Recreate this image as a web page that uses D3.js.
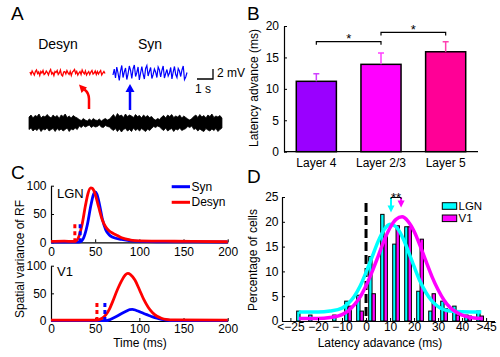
<!DOCTYPE html>
<html><head><meta charset="utf-8">
<script src="https://cdn.jsdelivr.net/npm/d3@7"></script>
<style>
body{margin:0;background:#fff}
text{font-family:"Liberation Sans",Arial,sans-serif;fill:#000}
</style>
</head><body>
<svg id="c" width="500" height="357"></svg>
<script>
// ================= DATA =================
// Panel A: membrane potential traces (mV, relative)
const desynTrace = [0.2,-0.3,0.4,0.0,-0.4,0.3,0.6,-0.1,0.2,-0.5,
  0.3,0.0,0.5,-0.3,-0.1,0.4,0.1,-0.4,0.3,0.7,
  -0.2,0.1,-0.5,0.3,0.1,0.5,-0.3,0.0,0.6,-0.4,
  -0.6,0.2,0.3,-0.2,0.5,0.0,-0.3,0.3,-0.5,0.2,
  0.4,0.7,-0.1,0.3,-0.4,0.0,0.3,-0.3,0.6,0.1,
  -0.2,0.4,-0.4,0.0,0.3,-0.3,0.2,0.5,-0.2,0.0,
  0.4,-0.3,0.3,-0.2,0.2,0.5,-0.4,0.0,0.3,-0.1];
const synTrace = [0.0,1.2,-0.6,1.6,0.4,-1.1,0.8,1.9,-0.5,0.6,
  1.4,-0.9,0.2,1.8,0.9,-0.7,1.2,2.0,-0.3,0.5,
  1.6,-1.0,0.4,1.7,0.2,-0.8,1.3,1.9,-0.2,0.7,
  1.5,-0.7,0.1,1.2,0.6,-0.5,1.6,1.0,-0.4,0.9,
  1.8,-0.6,0.3,1.1,-0.2,0.4,1.5,-0.8,0.6,1.7,
  0.1,-0.5,1.3,0.8,-0.3,1.0,1.8,-0.9,-0.4,0.5];
// field-potential envelope (upper / lower edge, mV)
const lfpTop = [1.2,1.6,1.0,1.5,1.3,1.8,1.0,1.4,1.2,1.7,1.3,1.0,1.6,1.2,1.5,0.9,1.6,1.3,1.8,1.1,1.4,1.0,1.5,1.2,1.0,
  0.7,0.5,0.9,0.6,0.4,0.8,0.5,0.9,0.6,0.5,0.8,0.4,0.7,0.9,0.6,0.8,
  1.2,1.7,1.1,1.9,1.4,1.6,1.1,1.8,1.3,1.6,1.4,1.1,1.7,1.3,1.5,1.0,1.6,1.2,1.5,1.1,1.3,
  0.8,0.6,0.9,0.7,
  1.2,1.5,1.0,1.6,1.3,1.7,1.1,1.4,1.2,1.6,1.0,1.4,1.1,
  0.8,0.6,0.9,
  1.3,1.6,1.1,1.7,1.2,1.5,1.0,1.6,1.3,1.8,1.1,1.4,1.2,1.5,1.0];
const lfpBottom = [-1.3,-1.0,-1.6,-1.2,-1.5,-1.0,-1.7,-1.2,-1.4,-1.0,-1.6,-1.3,-1.1,-1.7,-1.1,-1.5,-1.2,-1.6,-1.3,-1.0,-1.7,-1.2,-1.4,-1.0,-1.3,
  -0.6,-0.9,-0.5,-0.8,-0.6,-0.4,-0.9,-0.6,-0.8,-0.7,-0.4,-0.8,-0.9,-0.5,-0.7,-0.8,
  -1.2,-1.5,-1.1,-1.7,-1.2,-1.8,-1.3,-1.1,-1.6,-1.3,-1.7,-1.0,-1.5,-1.2,-1.6,-1.1,-1.4,-1.7,-1.2,-1.5,-1.1,
  -0.7,-0.9,-0.6,-0.8,
  -1.2,-1.5,-1.0,-1.6,-1.3,-1.1,-1.7,-1.2,-1.4,-1.0,-1.5,-1.3,-1.1,
  -0.7,-0.9,-0.6,
  -1.3,-1.1,-1.6,-1.2,-1.5,-1.7,-1.1,-1.4,-1.6,-1.2,-1.5,-1.1,-1.7,-1.3,-1.0];
// trace time windows (s)
const desynWindow = [0.06, 4.75];
const synWindow = [5.25, 9.875];
const lfpWindow = [0, 12.06];

// Panel B
const layers = ["Layer 4","Layer 2/3","Layer 5"];
const latencyMean = [11.2, 13.9, 15.9];
const latencyErr = [1.2, 1.8, 1.6];
const layerColors = ["#9a00ff","#ff00ff","#ff0096"];
const errColors = ["#d040ff","#ff40ff","#ff40b0"];
const bTicks = [0,5,10,15,20];
const sigPairs = [["Layer 4","Layer 2/3",17.5,"*"],["Layer 2/3","Layer 5",19.0,"*"]];

// Panel C (time in ms, spatial variance)
const cTicksX = [0,50,100,150,200];
const cTicksY = [0,50,100];
const lgnSyn = [[0,0.5],[30,0.5],[33,0.8],[37,8],[41,30],[45,64],[48,84],[50,89],[52,85],[55,66],[58,42],[62,22],[66,13],[70,9],[80,5],[90,2.5],[100,1.5],[120,1],[160,0.8],[200,0.5]];
const lgnDesyn = [[0,1.5],[15,2],[25,1.5],[28,2],[31,8],[35,30],[39,65],[42,87],[45,96],[47,95],[50,85],[54,62],[58,40],[62,27],[66,20],[70,16],[75,12],[80,8],[90,4],[100,2.5],[130,2],[160,1.5],[200,1]];
const v1Syn = [[0,0.5],[55,0.5],[62,0.6],[66,2],[70,5],[75,9],[80,13.5],[85,17.5],[89,20.5],[92,21],[96,19.5],[100,17],[105,13.5],[110,10.5],[115,7.5],[120,5],[125,3],[130,1.8],[140,0.8],[200,0.5]];
const v1Desyn = [[0,1.5],[50,1.5],[54,2.5],[58,5],[62,11],[66,21],[70,36],[75,56],[80,73],[84,83],[87,86],[90,84],[95,74],[100,57],[105,39],[110,25],[115,15],[120,8.5],[125,5],[130,3],[140,2],[200,1.5]];
const lgnOnsets = [27, 33];   // desyn, syn
const v1Onsets = [52, 61];
const onsetHeight = 35;

// Panel D
const binCenters = [-27.5,-22.5,-17.5,-12.5,-7.5,-2.5,2.5,7.5,12.5,17.5,22.5,27.5,32.5,37.5,42.5,47.5];
const lgnPct = [2.0,1.2,0,1.2,4.0,5.2,13.0,21.5,15.5,19.0,6.0,2.0,4.0,3.0,1.2,2.0];
const v1Pct  = [0,0,0,0,3.0,2.0,5.5,17.0,19.2,19.0,16.5,5.5,2.5,1.2,1.0,1.0];
const lgnFit = [[-28,1.8],[-20,1.8],[-15,2.0],[-10,2.6],[-7.5,3.5],[-5,4.9],[-2.5,7.0],[0,9.8],[2.5,12.9],[5,16.0],[7.5,18.4],[10,19.5],[12.5,19.0],[15,17.1],[17.5,14.2],[20,11.0],[22.5,8.0],[25,5.7],[27.5,4.0],[30,2.9],[35,2.0],[40,1.85],[48,1.8]];
const v1Fit = [[-28,0.5],[-20,0.5],[-15,0.7],[-10,1.3],[-7.5,2.0],[-5,3.2],[-2.5,4.8],[0,7.1],[2.5,9.9],[5,13.0],[7.5,16.2],[10,18.8],[12.5,20.5],[15,21.0],[17.5,20.1],[20,18.1],[22.5,15.2],[25,12.0],[27.5,8.9],[30,6.3],[32.5,4.2],[35,2.7],[37.5,1.8],[40,1.2],[45,0.6],[48,0.5]];
const dTickVals = [-31.5,-20,-10,0,10,20,30,40,50];
const dTickLabels = ["<\u221225","\u221220","\u221210","0","10","20","30","40",">45"];
const dTicksY = [0,5,10,15,20,25];
const meanArrows = [10.4, 14.6];   // LGN, V1 means
const zeroLineTop = 23.8;

// ================= DRAW =================
const svg = d3.select("#c");
function txt(x,y,s,size,anchor,rot){
  const t = svg.append("text").attr("x",x).attr("y",y).text(s)
    .attr("font-size",size).attr("text-anchor",anchor||"start");
  if(rot) t.attr("transform",`rotate(${rot},${x},${y})`);
  return t;
}
function styleAxis(g){
  g.selectAll("path").attr("stroke","#000").attr("stroke-width",1.2);
  g.selectAll("line").attr("stroke","#000").attr("stroke-width",1);
  g.selectAll("text").attr("font-size",12).attr("font-family",'"Liberation Sans",Arial,sans-serif');
}

// ---- Panel letters
txt(11,20,"A",19);
txt(247,19.5,"B",19);
txt(11,179,"C",19);
txt(247,182.5,"D",19);

// ---- Panel A
const xA = d3.scaleLinear().domain([0,14]).range([29,253]);
const yA = d3.scaleLinear().domain([-2,2]).range([10,-10]);
function timeOf(arr, win){ return arr.map((v,i)=>[win[0]+i*(win[1]-win[0])/(arr.length-1), v]); }
const lineA = d3.line().x(d=>xA(d[0])).y(d=>yA(d[1]));
svg.append("g").attr("transform","translate(0,73)")
  .append("path").attr("d",lineA(timeOf(desynTrace,desynWindow)))
  .attr("fill","none").attr("stroke","#ff0000").attr("stroke-width",1.3);
svg.append("g").attr("transform","translate(0,75)")
  .append("path").attr("d",lineA(timeOf(synTrace,synWindow)))
  .attr("fill","none").attr("stroke","#0000ff").attr("stroke-width",1.2);
const lfpPts = lfpTop.map((v,i)=>[lfpWindow[0]+i*(lfpWindow[1]-lfpWindow[0])/(lfpTop.length-1), v, lfpBottom[i]]);
svg.append("g").attr("transform","translate(0,123)")
  .append("path").attr("d", d3.area().x(d=>xA(d[0])).y0(d=>yA(d[2])).y1(d=>yA(d[1]))(lfpPts))
  .attr("fill","#000").attr("stroke","#000").attr("stroke-width",0.8);
txt(58,49,"Desyn",14,"middle");
txt(150,49,"Syn",14,"middle");
// scale bar: 1 s, 2 mV
const sbY = 79;
svg.append("path").attr("d",`M${xA(10.5)},${sbY}H${xA(11.5)}V${sbY+yA(2)-yA(0)}`)
  .attr("fill","none").attr("stroke","#000").attr("stroke-width",1.3);
txt(xA(11.5)+4,77,"2 mV",12);
txt(xA(11)-2,93,"1 s",12,"middle");
// arrows
svg.append("path").attr("d","M89,109 L89,99 Q89,93 84.5,89.5").attr("fill","none").attr("stroke","#ff0000").attr("stroke-width",2.5);
svg.append("path").attr("d","M79,84.5 L87,87.5 L81.5,93 Z").attr("fill","#ff0000");
svg.append("line").attr("x1",130).attr("x2",130).attr("y1",110).attr("y2",90).attr("stroke","#0000ff").attr("stroke-width",2.5);
svg.append("path").attr("d","M130,84 L125.5,92 L134.5,92 Z").attr("fill","#0000ff");

// ---- Panel B
const xB = d3.scaleBand().domain(layers).range([284,478]).paddingInner(0.38).paddingOuter(0.19);
const yB = d3.scaleLinear().domain([0,20]).range([151.7,26]);
const gB = svg.append("g");
gB.selectAll("rect").data(layers).join("rect")
  .attr("x",d=>xB(d)).attr("width",xB.bandwidth())
  .attr("y",(d,i)=>yB(latencyMean[i])).attr("height",(d,i)=>yB(0)-yB(latencyMean[i]))
  .attr("fill",(d,i)=>layerColors[i]).attr("stroke","#000").attr("stroke-width",1.5);
layers.forEach((d,i)=>{
  const cx = xB(d)+xB.bandwidth()/2;
  gB.append("path").attr("d",`M${cx},${yB(latencyMean[i])}V${yB(latencyMean[i]+latencyErr[i])}M${cx-3},${yB(latencyMean[i]+latencyErr[i])}H${cx+3}`)
    .attr("stroke",errColors[i]).attr("stroke-width",1.5).attr("fill","none");
});
const axBy = svg.append("g").attr("transform","translate(284,0)")
  .call(d3.axisLeft(yB).tickValues(bTicks).tickSizeInner(-3).tickSizeOuter(0).tickPadding(5));
styleAxis(axBy);
const axBx = svg.append("g").attr("transform",`translate(0,${yB(0)})`)
  .call(d3.axisBottom(xB).tickSize(0).tickPadding(6.5));
styleAxis(axBx);
axBx.select("path").attr("d","M284,0H478");
txt(258,88,"Latency advance (ms)",12,"middle",-90);
sigPairs.forEach(p=>{
  const x1 = xB(p[0])+xB.bandwidth()/2, x2 = xB(p[1])+xB.bandwidth()/2;
  const y = yB(p[2]), y2 = yB(p[2]-0.5);
  svg.append("path").attr("d",`M${x1},${y2}V${y}H${x2}V${y2}`).attr("fill","none").attr("stroke","#000").attr("stroke-width",1.2);
  txt((x1+x2)/2,y+1.5,p[3],13,"middle");
});

// ---- Panel C
const xC = d3.scaleLinear().domain([0,200]).range([51,227.7]);
const yCtop = d3.scaleLinear().domain([0,100]).range([242.3,185.7]);
const yCbot = d3.scaleLinear().domain([0,100]).range([321,265.7]);
function drawC(yS, syn, desyn, onsets, name, nameY, pad){
  const ax = svg.append("g").attr("transform",`translate(0,${yS(0)})`)
    .call(d3.axisBottom(xC).tickValues(cTicksX).tickSizeInner(-3).tickSizeOuter(0).tickPadding(pad));
  styleAxis(ax);
  const ay = svg.append("g").attr("transform",`translate(${xC(0)},0)`)
    .call(d3.axisLeft(yS).tickValues(cTicksY).tickSizeInner(-3).tickSizeOuter(0).tickPadding(4.5));
  styleAxis(ay);
  const ln = d3.line().x(d=>xC(d[0])).y(d=>yS(d[1])).curve(d3.curveMonotoneX);
  svg.append("path").attr("d",ln(syn)).attr("fill","none").attr("stroke","#0000ff").attr("stroke-width",2.8);
  svg.append("path").attr("d",ln(desyn)).attr("fill","none").attr("stroke","#ff0000").attr("stroke-width",2.8);
  const oc = ["#ff0000","#0000ff"];
  onsets.forEach((o,i)=>{
    svg.append("line").attr("x1",xC(o)).attr("x2",xC(o)).attr("y1",yS(0)).attr("y2",yS(onsetHeight))
      .attr("stroke",oc[i]).attr("stroke-width",3).attr("stroke-dasharray","4,3");
  });
  txt(57,nameY,name,13);
}
drawC(yCtop, lgnSyn, lgnDesyn, lgnOnsets, "LGN", 197.5, 5);
drawC(yCbot, v1Syn, v1Desyn, v1Onsets, "V1", 276, 3.5);
txt(140,346.5,"Time (ms)",12,"middle");
txt(24,259,"Spatial variance of RF",12,"middle",-90);
// legend C
svg.append("line").attr("x1",171.7).attr("x2",190).attr("y1",186.7).attr("y2",186.7).attr("stroke","#0000ff").attr("stroke-width",3);
txt(191.5,190.8,"Syn",12);
svg.append("line").attr("x1",171.7).attr("x2",190).attr("y1",202.3).attr("y2",202.3).attr("stroke","#ff0000").attr("stroke-width",3);
txt(191.5,206.4,"Desyn",12);

// ---- Panel D
const xD = d3.scaleLinear().domain([-35,53.5]).range([282,494.5]);
const yD = d3.scaleLinear().domain([0,25]).range([321,197]);
const bw = 1.4;
const gD = svg.append("g");
gD.selectAll("rect.l").data(binCenters).join("rect").attr("class","l")
  .attr("x",d=>xD(d-bw)).attr("width",xD(bw)-xD(0))
  .attr("y",(d,i)=>yD(lgnPct[i])).attr("height",(d,i)=>yD(0)-yD(lgnPct[i]))
  .attr("fill","#00ffff").attr("stroke","#000").attr("stroke-width",1)
  .style("display",(d,i)=>lgnPct[i]>0?null:"none");
gD.selectAll("rect.v").data(binCenters).join("rect").attr("class","v")
  .attr("x",d=>xD(d)).attr("width",xD(bw)-xD(0))
  .attr("y",(d,i)=>yD(v1Pct[i])).attr("height",(d,i)=>yD(0)-yD(v1Pct[i]))
  .attr("fill","#ff00ff").attr("stroke","#000").attr("stroke-width",1)
  .style("display",(d,i)=>v1Pct[i]>0?null:"none");
svg.append("line").attr("x1",xD(0)).attr("x2",xD(0)).attr("y1",yD(zeroLineTop)).attr("y2",yD(0))
  .attr("stroke","#000").attr("stroke-width",3).attr("stroke-dasharray","9,4");
const lnD = d3.line().x(d=>xD(d[0])).y(d=>yD(d[1])).curve(d3.curveMonotoneX);
svg.append("path").attr("d",lnD(lgnFit)).attr("fill","none").attr("stroke","#00ffff").attr("stroke-width",3.5);
svg.append("path").attr("d",lnD(v1Fit)).attr("fill","none").attr("stroke","#ff00ff").attr("stroke-width",3.5);
const axDx = svg.append("g").attr("transform",`translate(0,${yD(0)})`)
  .call(d3.axisBottom(xD).tickValues(dTickVals).tickFormat((d,i)=>dTickLabels[i]).tickSizeInner(-3).tickSizeOuter(0).tickPadding(1.5));
styleAxis(axDx);
const axDy = svg.append("g").attr("transform",`translate(${xD(-35)},0)`)
  .call(d3.axisLeft(yD).tickValues(dTicksY).tickSizeInner(-3).tickSizeOuter(0).tickPadding(3.5));
styleAxis(axDy);
txt(380,346.5,"Latency adavance (ms)",12,"middle");
txt(257,260,"Percentage of cells",12,"middle",-90);
// mean arrows + significance
const arrCol = ["#00ffff","#ff00ff"], arrTip = [21.9, 22.9];
meanArrows.forEach((m,i)=>{
  const x = xD(m);
  svg.append("line").attr("x1",x).attr("x2",x).attr("y1",yD(24.9)).attr("y2",yD(arrTip[i])-6).attr("stroke",arrCol[i]).attr("stroke-width",2);
  svg.append("path").attr("d",`M${x},${yD(arrTip[i])}L${x-3.5},${yD(arrTip[i])-7}L${x+3.5},${yD(arrTip[i])-7}Z`).attr("fill",arrCol[i]);
});
svg.append("path").attr("d",`M${xD(meanArrows[0])},${yD(24.6)}V${yD(24.9)}H${xD(meanArrows[1])}V${yD(24.6)}`).attr("fill","none").attr("stroke","#000").attr("stroke-width",1);
txt((xD(meanArrows[0])+xD(meanArrows[1]))/2,202,"**",13,"middle");
// legend D
svg.append("rect").attr("x",442.3).attr("y",202.7).attr("width",14.4).attr("height",6.6).attr("fill","#00ffff").attr("stroke","#000").attr("stroke-width",1);
txt(458.5,209.6,"LGN",11.5);
svg.append("rect").attr("x",442.3).attr("y",215).attr("width",14.4).attr("height",6.6).attr("fill","#ff00ff").attr("stroke","#000").attr("stroke-width",1);
txt(458.5,222.2,"V1",11.5);
</script>
</body></html>
